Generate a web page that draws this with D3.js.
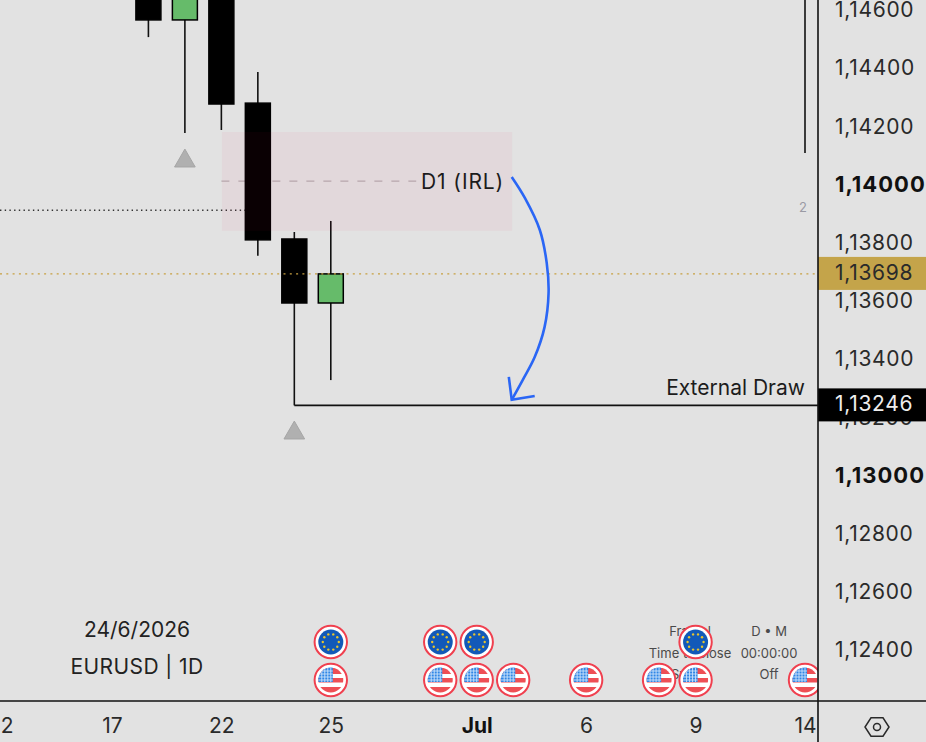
<!DOCTYPE html>
<html>
<head>
<meta charset="utf-8">
<script src="https://cdnjs.cloudflare.com/ajax/libs/d3/7.8.5/d3.min.js"></script>
<style>
html, body { margin: 0; padding: 0; background: #e2e2e2; overflow: hidden; }
svg { display: block; font-family: Inter, Roboto, sans-serif; }
</style>
</head>
<body>
<svg id="chart" width="926" height="742"></svg>
<script>
// sessions on the time axis, weekends skipped
var days = ["12", "15", "16", "17", "18", "19", "22", "23", "24", "25", "26", "29", "30", "Jul", "2", "3", "6", "7", "8", "9", "10", "13", "14"];
var timeTicks = ["12", "17", "22", "25", "Jul", "6", "9", "14"];
var priceTicks = [1.146, 1.144, 1.142, 1.14, 1.138, 1.136, 1.134, 1.132, 1.13, 1.128, 1.126, 1.124];
var boldPrices = [1.14, 1.13];

// candles, the ones running off the top are guessed above the frame
var candleDays = ["18", "19", "22", "23", "24", "25", "14"];
var opens = [1.1480, 1.14571, 1.1500, 1.14285, 1.13818, 1.13598, 1.1480];
var closes = [1.14571, 1.1480, 1.14282, 1.13815, 1.13598, 1.13698, 1.1490];
var highs = [1.1490, 1.1490, 1.1510, 1.14392, 1.13842, 1.13880, 1.1500];
var lows = [1.14512, 1.14182, 1.14193, 1.13760, 1.13246, 1.13333, 1.14114];

var fractalDays = ["19", "24"];
var fractalPrices = [1.14086, 1.13151];

var euDays = ["25", "30", "Jul", "9"];
var usDays = ["25", "30", "Jul", "2", "6", "8", "9", "14"];

var lastPrice = 1.13698;
var drawPrice = 1.13246;
var zoneTop = 1.14186, zoneBottom = 1.13846, zoneMid = 1.14017;
var dottedPrice = 1.13917;

// arrow path as [bar index, price]
var arrowPts = [[13.96, 1.14031], [14.32, 1.13959], [14.73, 1.13849], [14.92, 1.13735], [14.97, 1.13632], [14.86, 1.13515], [14.59, 1.13412], [14.26, 1.13333], [13.96, 1.13265]];
var arrowHead = [[13.88, 1.13344], [13.96, 1.13265], [14.59, 1.13278]];

var width = 926, height = 742, plotRight = 818, axisY = 701;

var x = d3.scaleLinear().domain([0, days.length - 1]).range([2.5, 805]);
var y = d3.scaleLinear().domain([1.146, 1.124]).range([11.5, 651.5]);
function xDay(d) { return x(days.indexOf(d)); }

var svg = d3.select("#chart");
svg.append("rect").attr("width", width).attr("height", height).attr("fill", "#e2e2e2");

var defs = svg.append("defs");
defs.append("clipPath").attr("id", "plotClip").append("rect")
    .attr("width", plotRight).attr("height", axisY);
defs.append("clipPath").attr("id", "timeClip").append("rect")
    .attr("y", axisY).attr("width", plotRight).attr("height", height - axisY);
defs.append("clipPath").attr("id", "flagClip").append("circle").attr("r", 12.5);

var plot = svg.append("g").attr("clip-path", "url(#plotClip)");

// dotted level and zone midline go under the candles
plot.append("line")
    .attr("x1", 0).attr("x2", xDay("23") - 12)
    .attr("y1", y(dottedPrice)).attr("y2", y(dottedPrice))
    .attr("stroke", "#333").attr("stroke-width", 1.5).attr("stroke-dasharray", "1.4 3.3");
plot.append("line")
    .attr("x1", x(6)).attr("x2", x(14) - 97)
    .attr("y1", y(zoneMid)).attr("y2", y(zoneMid))
    .attr("stroke", "#b5aeb1").attr("stroke-width", 1.3).attr("stroke-dasharray", "8 9");

// candles
var candles = candleDays.map(function (d, i) {
    return { day: d, open: opens[i], close: closes[i], high: highs[i], low: lows[i] };
});
var bars = plot.selectAll("g.candle").data(candles).enter().append("g").attr("class", "candle");
bars.append("line")
    .attr("x1", function (d) { return xDay(d.day); })
    .attr("x2", function (d) { return xDay(d.day); })
    .attr("y1", function (d) { return y(d.high); })
    .attr("y2", function (d) { return y(d.low); })
    .attr("stroke", "#111").attr("stroke-width", 1.6);
bars.append("rect")
    .attr("x", function (d) { return xDay(d.day) - 12.5; })
    .attr("width", 25)
    .attr("y", function (d) { return y(Math.max(d.open, d.close)); })
    .attr("height", function (d) { return Math.abs(y(d.open) - y(d.close)); })
    .attr("fill", function (d) { return d.close > d.open ? "#66bb6a" : "#000"; })
    .attr("stroke", "#000").attr("stroke-width", 1.5);

// last price dots run over the candles
plot.append("line")
    .attr("x1", 0).attr("x2", plotRight)
    .attr("y1", y(lastPrice)).attr("y2", y(lastPrice))
    .attr("stroke", "#c8a040").attr("stroke-width", 1.4).attr("stroke-dasharray", "2 4.3");

// fractal markers
plot.selectAll("path.fractal").data(fractalDays).enter().append("path")
    .attr("class", "fractal")
    .attr("d", d3.symbol().type(d3.symbolTriangle).size(185))
    .attr("transform", function (d, i) { return "translate(" + xDay(d) + "," + y(fractalPrices[i]) + ")"; })
    .attr("fill", "#b0b0b0").attr("stroke", "#a6a6a6").attr("stroke-width", 1);

// D1 zone
plot.append("rect")
    .attr("x", x(6) + 0.5).attr("width", x(14) - x(6) - 1.5)
    .attr("y", y(zoneTop)).attr("height", y(zoneBottom) - y(zoneTop))
    .attr("fill", "rgba(230,0,70,0.044)");
plot.append("text")
    .attr("x", x(14) - 9).attr("y", y(zoneMid) + 8)
    .attr("text-anchor", "end").attr("font-size", 21).attr("letter-spacing", 0.9).attr("fill", "#1c1c1c")
    .text("D1 (IRL)");

// external draw line
plot.append("line")
    .attr("x1", xDay("24")).attr("x2", plotRight)
    .attr("y1", y(drawPrice)).attr("y2", y(drawPrice))
    .attr("stroke", "#111").attr("stroke-width", 1.6);
plot.append("text")
    .attr("x", 805).attr("y", y(drawPrice) - 10)
    .attr("text-anchor", "end").attr("font-size", 21).attr("fill", "#1c1c1c")
    .text("External Draw");

// blue arrow
var arrowLine = d3.line()
    .x(function (d) { return x(d[0]); })
    .y(function (d) { return y(d[1]); });
plot.append("path")
    .attr("d", arrowLine.curve(d3.curveCatmullRom)(arrowPts))
    .attr("fill", "none").attr("stroke", "#2a66f5").attr("stroke-width", 2.6);
plot.append("path")
    .attr("d", arrowLine.curve(d3.curveLinear)(arrowHead))
    .attr("fill", "none").attr("stroke", "#2a66f5").attr("stroke-width", 2.6);

// small table and its grey labels
var tableRows = [["Fractal", "D \u2022 M"], ["Time to close", "00:00:00"], ["Swing", "Off"]];
var tableTop = [636, 658, 679];
tableRows.forEach(function (row, i) {
    plot.append("text").attr("x", 690).attr("y", tableTop[i]).attr("text-anchor", "middle")
        .attr("font-size", 13).attr("fill", "#4a4a4a").text(row[0]);
    plot.append("text").attr("x", 769).attr("y", tableTop[i]).attr("text-anchor", "middle")
        .attr("font-size", 13).attr("fill", "#4a4a4a").text(row[1]);
});
plot.append("text").attr("x", 803).attr("y", 212).attr("text-anchor", "middle")
    .attr("font-size", 13).attr("fill", "#9a9aa4").text("2");

plot.append("text").attr("x", 137).attr("y", 637).attr("text-anchor", "middle")
    .attr("font-size", 21).attr("fill", "#222").text("24/6/2026");
plot.append("text").attr("x", 137).attr("y", 674).attr("text-anchor", "middle")
    .attr("font-size", 21).attr("letter-spacing", 0.4).attr("fill", "#222").text("EURUSD | 1D");

// event icons
function ring(g) {
    g.append("circle").attr("r", 16.2).attr("fill", "#fff").attr("stroke", "#f0404f").attr("stroke-width", 2);
}
var euStars = d3.range(10);
plot.selectAll("g.eu").data(euDays).enter().append("g").attr("class", "eu")
    .attr("transform", function (d) { return "translate(" + xDay(d) + ",642)"; })
    .each(function () {
        var g = d3.select(this);
        ring(g);
        g.append("circle").attr("r", 12.5).attr("fill", "#1259b8");
        g.selectAll("circle.star").data(euStars).enter().append("circle")
            .attr("class", "star").attr("r", 1.2).attr("fill", "#e8c52e")
            .attr("cx", function (d) { return 8 * Math.cos(d / 10 * 2 * Math.PI); })
            .attr("cy", function (d) { return 8 * Math.sin(d / 10 * 2 * Math.PI); });
    });

var usStripes = [-12, -2, 7];
var usStripeH = [6, 4.5, 6];
var usGrid = [-9, -6, -3, 0];
plot.selectAll("g.us").data(usDays).enter().append("g").attr("class", "us")
    .attr("transform", function (d) { return "translate(" + xDay(d) + ",680)"; })
    .each(function () {
        var g = d3.select(this);
        ring(g);
        var f = g.append("g").attr("clip-path", "url(#flagClip)");
        f.selectAll("rect.stripe").data(usStripes).enter().append("rect")
            .attr("class", "stripe")
            .attr("x", -13).attr("width", 26)
            .attr("y", function (d) { return d; })
            .attr("height", function (d, i) { return usStripeH[i]; })
            .attr("fill", "#ee4f55");
        f.append("rect").attr("x", -13).attr("y", -13).attr("width", 15).attr("height", 15).attr("fill", "#2f86e6");
        f.selectAll("line.gv").data(usGrid).enter().append("line").attr("class", "gv")
            .attr("x1", function (d) { return d; }).attr("x2", function (d) { return d; })
            .attr("y1", -13).attr("y2", 2).attr("stroke", "#cfe4fb").attr("stroke-width", 0.9);
        f.selectAll("line.gh").data(usGrid).enter().append("line").attr("class", "gh")
            .attr("y1", function (d) { return d; }).attr("y2", function (d) { return d; })
            .attr("x1", -13).attr("x2", 2).attr("stroke", "#cfe4fb").attr("stroke-width", 0.9);
    });

// price axis
var fmt = d3.format(".5f");
function priceText(p) { return fmt(p).replace(".", ","); }
var yAxis = d3.axisRight(y).tickValues(priceTicks).tickSize(0).tickFormat(priceText);
var yG = svg.append("g").attr("transform", "translate(" + plotRight + ",0)").call(yAxis);
yG.select(".domain").remove();
yG.selectAll("text")
    .attr("x", 17).attr("y", -1.5)
    .attr("text-anchor", "start")
    .attr("font-family", "Inter, Roboto, sans-serif").attr("font-size", 21).attr("letter-spacing", 0.7)
    .attr("fill", "#2a2a2a");
yG.selectAll(".tick").filter(function (d) { return boldPrices.indexOf(d) >= 0; })
    .select("text").attr("font-weight", 700).attr("font-size", 22).attr("letter-spacing", 1).attr("fill", "#111");

// last price and draw labels sit over the ticks
function priceLabel(p, bg, fg) {
    svg.append("rect").attr("x", plotRight).attr("width", width - plotRight)
        .attr("y", y(p) - 17).attr("height", 33).attr("fill", bg);
    svg.append("text").attr("x", plotRight + 17).attr("y", y(p) + 6)
        .attr("font-size", 21).attr("letter-spacing", 0.7).attr("fill", fg).text(priceText(p));
}
priceLabel(lastPrice, "#c4a44a", "#2a2a2a");
priceLabel(drawPrice, "#000", "#eee");

// time axis
var xAxis = d3.axisBottom(x)
    .tickValues(timeTicks.map(function (d) { return days.indexOf(d); }))
    .tickSize(0)
    .tickFormat(function (i) { return days[i]; });
var xG = svg.append("g").attr("clip-path", "url(#timeClip)")
    .append("g").attr("transform", "translate(0," + axisY + ")").call(xAxis);
xG.select(".domain").remove();
xG.selectAll("text")
    .attr("y", 17).attr("dy", ".71em")
    .attr("font-family", "Inter, Roboto, sans-serif").attr("font-size", 21)
    .attr("fill", "#2a2a2a");
xG.selectAll(".tick").filter(function (i) { return days[i] == "Jul"; })
    .select("text").attr("font-weight", 700).attr("fill", "#111");

// frame
svg.append("line").attr("x1", 0).attr("x2", width).attr("y1", axisY).attr("y2", axisY)
    .attr("stroke", "#111").attr("stroke-width", 1.6);
svg.append("line").attr("x1", plotRight).attr("x2", plotRight).attr("y1", 0).attr("y2", height)
    .attr("stroke", "#111").attr("stroke-width", 1.6);

// settings hexagon
var hexPts = d3.range(6).map(function (i) {
    var a = i / 6 * 2 * Math.PI;
    return [12 * Math.cos(a), 10.6 * Math.sin(a)];
});
var gear = svg.append("g").attr("transform", "translate(877,727)")
    .attr("fill", "none").attr("stroke", "#2a2a2a").attr("stroke-width", 1.5);
gear.append("path").attr("d", d3.line()(hexPts) + "Z");
gear.append("circle").attr("r", 3.5);
</script>
</body>
</html>
